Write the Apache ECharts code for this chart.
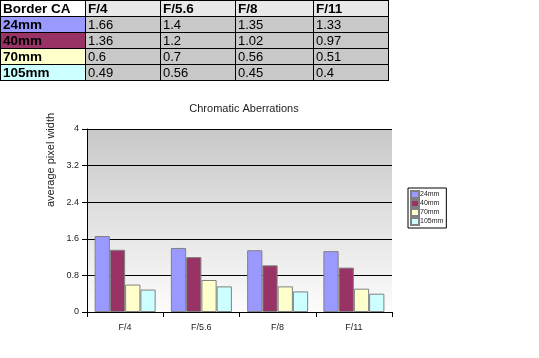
<!DOCTYPE html>
<html><head><meta charset="utf-8">
<script src="https://cdn.jsdelivr.net/npm/echarts@6/dist/echarts.min.js"></script>
<style>
html,body{margin:0;padding:0;background:#fff;}
#wrap{position:relative;width:539px;height:358px;overflow:hidden;}
#chart{position:absolute;left:0;top:0;width:539px;height:358px;}
#tbl{position:absolute;left:0;top:0;border-collapse:collapse;font-family:"Liberation Sans",Arial,sans-serif;font-size:13px;}
#tbl td{border:1px solid #000;padding:0 2px;height:15px;line-height:14px;white-space:nowrap;}
</style>
</head><body>
<div id="wrap">
<div id="chart"></div>
<table id="tbl"></table>
</div>
<script>
const categories = ['F/4', 'F/5.6', 'F/8', 'F/11'];
const seriesNames = ['24mm', '40mm', '70mm', '105mm'];
const s24 = [1.66, 1.4, 1.35, 1.33];
const s40 = [1.36, 1.2, 1.02, 0.97];
const s70 = [0.6, 0.7, 0.56, 0.51];
const s105 = [0.49, 0.56, 0.45, 0.4];
const seriesValues = [s24, s40, s70, s105];
const colors = ['#9999FF', '#993366', '#FFFFCC', '#CCFFFF'];
const tableLabels = ['24mm', '40mm', '70mm', '105mm'];

// table
const colW = [80, 70, 70, 73, 70];
const tbl = document.getElementById('tbl');
let html = '<tr>';
html += '<td style="width:' + colW[0] + 'px;background:#fff;font-weight:bold;font-size:13.5px">Border CA</td>';
categories.forEach((c, i) => { html += '<td style="width:' + colW[i+1] + 'px;background:#e8e8e8;font-weight:bold;font-size:13.5px">' + c + '</td>'; });
html += '</tr>';
seriesValues.forEach((vals, r) => {
  html += '<tr><td style="background:' + colors[r] + ';font-weight:bold;font-size:13.5px">' + tableLabels[r] + '</td>';
  vals.forEach(v => { html += '<td style="background:#c8c8c8">' + v + '</td>'; });
  html += '</tr>';
});
tbl.innerHTML = html;

const chart = echarts.init(document.getElementById('chart'), null, {renderer: 'canvas'});
const font = '"Liberation Sans", Arial, sans-serif';
chart.setOption({
  animation: false,
  title: {
    text: 'Chromatic Aberrations', left: 239, top: 98, textAlign: 'center',
    textStyle: {fontSize: 11, fontWeight: 'normal', color: '#222', fontFamily: font}
  },
  graphic: [{
    type: 'text', x: 51, y: 160, rotation: Math.PI / 2,
    style: {text: 'average pixel width', fontSize: 11, fontFamily: font, fill: '#222', align: 'center', verticalAlign: 'middle'}
  }],
  legend: {
    orient: 'vertical', left: 408, top: 188, padding: [2, 3, 2, 2],
    itemWidth: 8, itemHeight: 7, itemGap: 0, borderRadius: 0,
    borderColor: '#000', borderWidth: 1, icon: 'rect',
    textStyle: {fontSize: 7, lineHeight: 7, height: 7, fontFamily: font, color: '#222', padding: [0, 0, 0, -4]},
    data: seriesNames
  },
  grid: {
    left: 87, right: 147, top: 129, bottom: 46, show: true, borderWidth: 0,
    backgroundColor: new echarts.graphic.LinearGradient(0, 0, 0, 1, [
      {offset: 0, color: '#c8c8c8'}, {offset: 1, color: '#fcfcfc'}
    ])
  },
  xAxis: {
    type: 'category', data: categories,
    axisLine: {lineStyle: {color: '#000', width: 1}},
    axisTick: {show: true, length: 5, lineStyle: {color: '#000'}},
    axisLabel: {fontSize: 9, fontFamily: font, color: '#222', margin: 11}
  },
  yAxis: {
    type: 'value', min: 0, max: 4, interval: 0.8,
    axisLine: {show: true, lineStyle: {color: '#000', width: 1}},
    axisTick: {show: true, length: 5, lineStyle: {color: '#000'}},
    axisLabel: {fontSize: 9, fontFamily: font, color: '#222', margin: 8},
    splitLine: {lineStyle: {color: '#000', width: 1}}
  },
  series: seriesNames.map((n, i) => ({
    name: n, type: 'bar', data: seriesValues[i],
    barGap: '0%', barCategoryGap: '20%',
    itemStyle: {color: colors[i], borderColor: '#808080', borderWidth: 1}
  }))
});
</script>
</body></html>
